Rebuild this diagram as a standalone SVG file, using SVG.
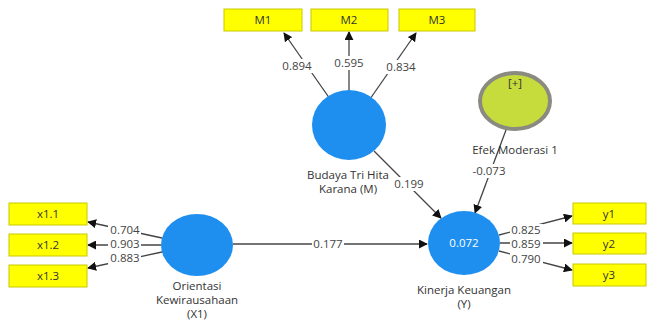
<svg xmlns="http://www.w3.org/2000/svg" width="648" height="322" viewBox="0 0 648 322">
<defs>
<marker id="ah" viewBox="0 0 10 10" refX="9" refY="5" markerWidth="9" markerHeight="9" markerUnits="userSpaceOnUse" orient="auto"><path d="M0,0 L10,5 L0,10 z" fill="#111"/></marker>
<style>
.box{fill:#ffff00;stroke:#c8c800;stroke-width:1}
.lv{fill:#1e8fef}
.t{font-family:"Open Sans","Noto Sans",sans-serif;font-size:11.5px;fill:#333;text-anchor:middle}
.lbl{font-family:"Open Sans","Noto Sans",sans-serif;font-size:11.5px;fill:#444;text-anchor:middle}
.bg{fill:#fff}
.c{stroke:#444;stroke-width:1.3;fill:none;marker-end:url(#ah)}
</style>
</defs>
<rect width="648" height="322" fill="#fff"/>
<g id="connectors">
<line class="c" x1="330" y1="99" x2="284" y2="33"/>
<line class="c" x1="349" y1="91" x2="349" y2="32"/>
<line class="c" x1="370" y1="99" x2="416" y2="33"/>
<line class="c" x1="374" y1="151" x2="441" y2="218"/>
<line class="c" x1="506" y1="130" x2="475" y2="213"/>
<line class="c" x1="233" y1="244" x2="427" y2="244"/>
<line class="c" x1="162" y1="238" x2="88" y2="222"/>
<line class="c" x1="161" y1="245" x2="88" y2="245"/>
<line class="c" x1="162" y1="252" x2="88" y2="268"/>
<line class="c" x1="499" y1="235" x2="572" y2="216"/>
<line class="c" x1="500" y1="243" x2="572" y2="243"/>
<line class="c" x1="499" y1="251" x2="572" y2="270"/>
<rect class="bg" x="281" y="59" width="32" height="14"/><text class="lbl" x="297" y="70">0.894</text>
<rect class="bg" x="333" y="56" width="32" height="14"/><text class="lbl" x="349" y="67">0.595</text>
<rect class="bg" x="385" y="60" width="32" height="14"/><text class="lbl" x="401" y="71">0.834</text>
<rect class="bg" x="393" y="177" width="31" height="14"/><text class="lbl" x="409" y="188">0.199</text>
<rect class="bg" x="471" y="164" width="36" height="14"/><text class="lbl" x="489" y="175">-0.073</text>
<rect class="bg" x="312" y="237" width="32" height="14"/><text class="lbl" x="328" y="248">0.177</text>
<rect class="bg" x="108" y="223" width="33" height="13"/><text class="lbl" x="125" y="234">0.704</text>
<rect class="bg" x="108" y="238" width="33" height="13"/><text class="lbl" x="125" y="248">0.903</text>
<rect class="bg" x="108" y="252" width="33" height="13"/><text class="lbl" x="125" y="262">0.883</text>
<rect class="bg" x="510" y="224" width="33" height="13"/><text class="lbl" x="526" y="234">0.825</text>
<rect class="bg" x="510" y="238" width="33" height="13"/><text class="lbl" x="526" y="248">0.859</text>
<rect class="bg" x="510" y="252" width="33" height="13"/><text class="lbl" x="526" y="263">0.790</text>
</g>
<g id="M1"><rect class="box" x="224" y="9" width="78" height="22"/><text class="t" x="263" y="24">M1</text></g>
<g id="M2"><rect class="box" x="311" y="9" width="77" height="22"/><text class="t" x="349" y="24">M2</text></g>
<g id="M3"><rect class="box" x="399" y="9" width="76" height="22"/><text class="t" x="437" y="24">M3</text></g>
<g id="M"><ellipse class="lv" cx="349" cy="125" rx="37" ry="35"/><text class="t" x="348" y="179">Budaya Tri Hita</text><text class="t" x="348" y="193">Karana (M)</text></g>
<g id="Efek"><ellipse cx="515" cy="101" rx="35" ry="28" fill="#c6dc3c" stroke="#8a8a80" stroke-width="4"/><text class="t" x="515" y="87">[+]</text><text class="t" x="515" y="154">Efek Moderasi 1</text></g>
<g id="X1"><ellipse class="lv" cx="197" cy="245" rx="36" ry="31"/><text class="t" x="197" y="290">Orientasi</text><text class="t" x="197" y="304">Kewirausahaan</text><text class="t" x="197" y="318">(X1)</text></g>
<g id="Y"><ellipse class="lv" cx="464" cy="243" rx="36" ry="32"/><text class="t" x="464" y="247" style="fill:#fff">0.072</text><text class="t" x="464" y="294">Kinerja Keuangan</text><text class="t" x="464" y="308">(Y)</text></g>
<g id="x1.1"><rect class="box" x="9" y="203" width="78" height="22"/><text class="t" x="48" y="218">x1.1</text></g>
<g id="x1.2"><rect class="box" x="9" y="234" width="78" height="22"/><text class="t" x="48" y="249">x1.2</text></g>
<g id="x1.3"><rect class="box" x="9" y="265" width="78" height="22"/><text class="t" x="48" y="280">x1.3</text></g>
<g id="y1"><rect class="box" x="573" y="203" width="73" height="21"/><text class="t" x="609" y="218">y1</text></g>
<g id="y2"><rect class="box" x="573" y="233" width="73" height="21"/><text class="t" x="609" y="248">y2</text></g>
<g id="y3"><rect class="box" x="573" y="264" width="73" height="22"/><text class="t" x="609" y="279">y3</text></g>
</svg>
